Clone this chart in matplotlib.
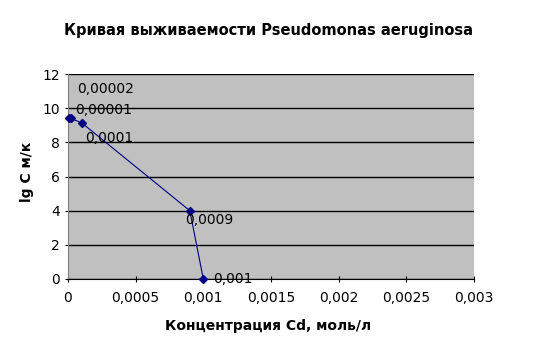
import matplotlib
matplotlib.use("Agg")
import matplotlib.pyplot as plt

conc = [0.00001, 0.00002, 0.0001, 0.0009, 0.001]
lgC = [9.45, 9.4, 9.15, 4.0, 0.0]
point_labels = ["0,00001", "0,00002", "0,0001", "0,0009", "0,001"]
label_offsets = [(4, 5.5), (4.3, 21), (2.5, -11.3), (-3.2, -6.5), (7, 0)]

xticks = [0, 0.0005, 0.001, 0.0015, 0.002, 0.0025, 0.003]
xticklabels = ["0", "0,0005", "0,001", "0,0015", "0,002", "0,0025", "0,003"]
yticks = [0, 2, 4, 6, 8, 10, 12]

plt.rcParams['font.family'] = ['DejaVu Sans']
fig = plt.figure(figsize=(5.38, 3.52), dpi=100)
ax = fig.add_axes([68/538, 1-279/352, (474-68)/538, (279-74)/352])
ax.set_facecolor('#c0c0c0')
ax.set_xlim(0, 0.003)
ax.set_ylim(0, 12)
ax.set_xticks(xticks)
ax.set_xticklabels(xticklabels)
ax.set_yticks(yticks)
ax.grid(axis='y', color='black', linewidth=1)
ax.set_axisbelow(True)
for s in ['top', 'right']:
    ax.spines[s].set_visible(False)
ax.spines['left'].set_color('#808080')
ax.spines['bottom'].set_color('black')
ax.tick_params(direction='inout', length=5, labelsize=10, colors='black')
ax.tick_params(axis='x', pad=6)

ax.plot(conc, lgC, color='#000080', linewidth=0.8, marker='D', markersize=4,
        markerfacecolor='#000080', markeredgecolor='#000080', clip_on=False, zorder=3)
for x, y, t, off in zip(conc, lgC, point_labels, label_offsets):
    ax.annotate(t, (x, y), xytext=off, textcoords='offset points',
                fontsize=10, va='center', ha='left', color='black')

fig.text(268/538, 1-30/352, "Кривая выживаемости Pseudomonas aeruginosa",
         ha='center', va='center', fontsize=10.5, fontweight='bold')
fig.text(268/538, 1-326/352, "Концентрация Cd, моль/л",
         ha='center', va='center', fontsize=10, fontweight='bold')
fig.text(27/538, 1-172/352, "lg C м/к", ha='center', va='center',
         fontsize=10, fontweight='bold', rotation=90)

fig.savefig("out.png", dpi=100)
